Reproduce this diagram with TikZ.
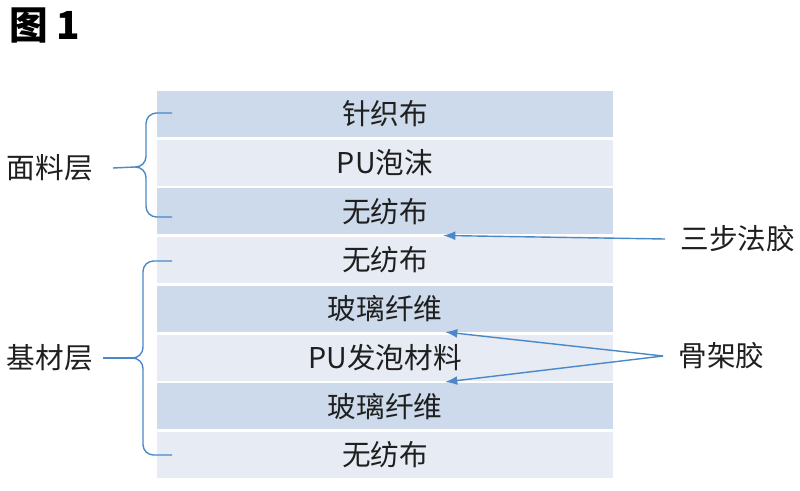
\documentclass[tikz,border=0pt]{standalone}
\usepackage{fontspec}
\setmainfont{Noto Sans CJK SC}
\usetikzlibrary{arrows.meta}
\definecolor{rowdark}{RGB}{204,218,235}
\definecolor{rowlight}{RGB}{230,235,244}
\definecolor{lineblue}{RGB}{74,136,200}

\begin{document}
\begin{tikzpicture}[x=0.02cm,y=-0.02cm,>={Latex[length=7pt,width=5pt]},
  font=\fontsize{16.3}{19}\selectfont,
  layer/.style={minimum width=9.12cm,minimum height=0.92cm,inner sep=0pt,text=black!88},
  dark/.style={layer,fill=rowdark},
  light/.style={layer,fill=rowlight},
  side/.style={inner ysep=0pt,text=black!88},
  glue/.style={lineblue,line width=0.8pt},
  brace/.style={lineblue,line width=0.8pt,rounded corners=6pt}]
  \useasboundingbox (0,0) rectangle (800,490);
  \node[anchor=north west,inner sep=0pt,font=\fontsize{22}{25}\selectfont\bfseries] (title) at (9,7) {图 1};
  % layers, top to bottom
  \node[dark] (zhenzhi) at (385,114) {针织布};
  \node[light] (paomo) at (385,162.7) {PU泡沫};
  \node[dark] (wufangA) at (385,211.4) {无纺布};
  \node[light] (wufangB) at (385,260.1) {无纺布};
  \node[dark] (boliA) at (385,308.8) {玻璃纤维};
  \node[light] (fapao) at (385,357.5) {PU发泡材料};
  \node[dark] (boliB) at (385,406.2) {玻璃纤维};
  \node[light] (wufangC) at (385,454.9) {无纺布};
  % glue lines between layers
  \coordinate (sanbuG) at (443,235.5);
  \coordinate (gujiaA) at (445,332);
  \coordinate (gujiaB) at (445,382);
  \node[side,inner xsep=0.3cm,anchor=west] (sanbu) at (665,239) {三步法胶};
  \node[side,inner xsep=0.3cm,anchor=west] (gujia) at (663,356) {骨架胶};
  \draw[glue,->] (sanbu.west) -- (sanbuG);
  \draw[glue,->] (gujia.west) -- (gujiaA);
  \draw[glue,->] (gujia.west) -- (gujiaB);
  % braces on the left
  \coordinate (tipA) at (135,167);
  \coordinate (tipB) at (133,358);
  \draw[brace] (172,113) -- (146,113) -- (146,167) -- (tipA);
  \draw[brace] (172,217) -- (146,217) -- (146,167) -- (tipA);
  \draw[brace] (172,261) -- (143,261) -- (143,358) -- (tipB);
  \draw[brace] (172,455) -- (143,455) -- (143,358) -- (tipB);
  \node[side,inner xsep=0.4cm,anchor=east] (mianliao) at (113,168) {面料层};
  \node[side,inner xsep=0.2cm,anchor=east] (jicai) at (103,358) {基材层};
  \draw[brace] (mianliao.east) -- (tipA);
  \draw[brace] (jicai.east) -- (tipB);
\end{tikzpicture}
\end{document}
